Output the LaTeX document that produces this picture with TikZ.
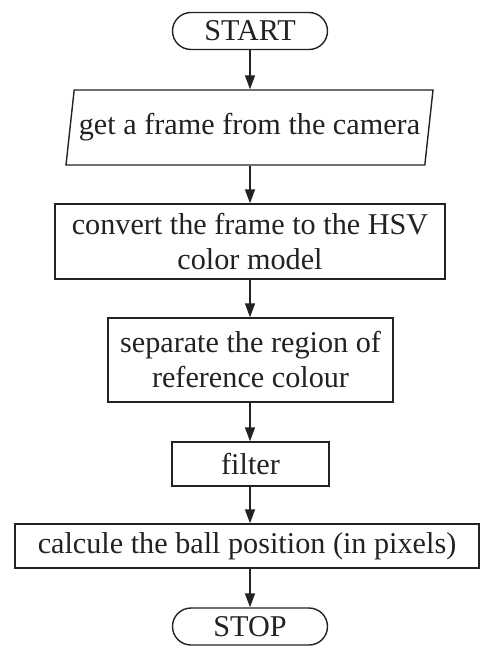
\documentclass[tikz,border=0pt]{standalone}
\usepackage{fontspec}
\setmainfont{Liberation Serif}
\usetikzlibrary{shapes.geometric,shapes.misc,arrows.meta}
\definecolor{ink}{HTML}{222222}
\begin{document}
\begin{tikzpicture}[x=1pt,y=-1pt,
  base/.style={draw=ink,line width=1.4pt,text=ink,inner sep=0pt,align=center,
    font=\fontsize{30.2}{35}\selectfont},
  term/.style={base,rounded rectangle,minimum width=155pt,minimum height=37pt},
  io/.style={base,trapezium,trapezium left angle=74,trapezium right angle=106,
    trapezium stretches=true,minimum width=368pt,minimum height=75pt},
  proc/.style={base,rectangle},
  flow/.style={draw=ink,line width=1.4pt,-{Triangle[length=14pt,width=10pt]}}]
\useasboundingbox (0,0) rectangle (481,648);
\node[term] (start) at (250,31) {START};
\node[io] (frame) at (249.5,127.5) {get a frame from the camera};
\node[proc,minimum width=390pt,minimum height=75pt] (hsv) at (250,241.5) {convert the frame to the HSV\\color model};
\node[proc,minimum width=285pt,minimum height=84pt] (sep) at (250.5,360) {separate the region of\\reference colour};
\node[proc,minimum width=157pt,minimum height=44pt] (filter) at (250.5,464) {filter};
\node[proc,minimum width=464pt,minimum height=44pt] (calc) at (247,546) {calcule the ball position (in pixels)};
\node[term] (stop) at (250,626.5) {STOP};
\draw[flow] (start.south) -- (start.south |- frame.north);
\draw[flow] (start.south |- frame.south) -- (start.south |- hsv.north);
\draw[flow] (start.south |- hsv.south) -- (start.south |- sep.north);
\draw[flow] (start.south |- sep.south) -- (start.south |- filter.north);
\draw[flow] (start.south |- filter.south) -- (start.south |- calc.north);
\draw[flow] (start.south |- calc.south) -- (stop.north);
\end{tikzpicture}
\end{document}
